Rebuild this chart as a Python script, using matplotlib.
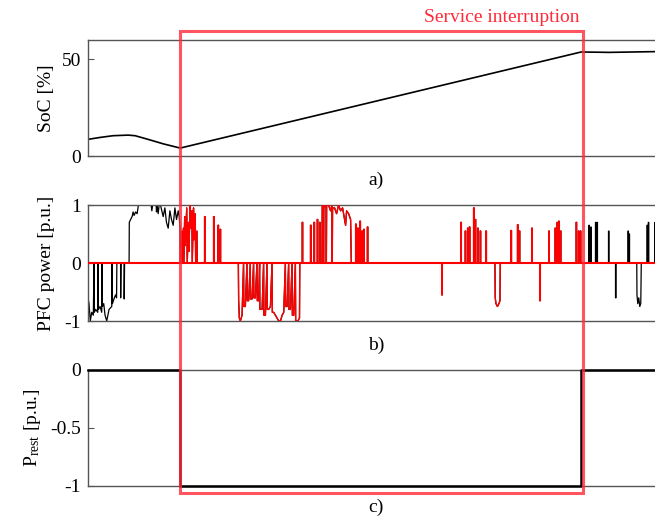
import numpy as np
import matplotlib
matplotlib.use('Agg')
import matplotlib.pyplot as plt
from matplotlib.patches import Rectangle
from matplotlib.transforms import blended_transform_factory

plt.rcParams['font.family'] = ['Liberation Serif', 'DejaVu Serif']
plt.rcParams['font.size'] = 14
plt.rcParams['axes.unicode_minus'] = False

# time axis (arbitrary units, no ticks shown)
t_end = 567
t_int_start = 92
t_int_stop = 492

# a) state of charge
soc_t = [0, 12, 25, 40, 47, 60, 75, 92, 492, 520, 567]
soc_v = [8.6, 9.6, 10.5, 10.8, 10.5, 8.6, 6.3, 4.1, 53.8, 53.6, 54.0]

# b) PFC power: wandering parts as vertex lists, short pulses as (t, height)
pfc_segments = [
    [(0, -0.6), (1, -0.7), (2.3, -1.0), (3.7, -0.85), (5.3, -0.9), (6, 0), (6.4, -0.85),
     (7.7, -0.8), (9.7, -0.85), (10, 0), (10.4, -0.8), (12, -0.75), (13.7, -0.85), (14, 0),
     (14.4, -0.75), (15.7, -0.7), (17, -0.9), (18.7, -1.0), (21, -0.8), (23.7, -0.75),
     (24, 0), (24.4, -0.7), (26.3, -0.6), (27.5, -0.55), (28.5, -0.6), (28.8, 0),
     (32.5, 0), (32.6, -0.6), (33, 0), (36, 0), (36.1, -0.62), (36.5, 0),
     (41, 0), (41.2, 0.7), (42.5, 0.75), (44, 0.8), (45, 0.88), (46, 0.82), (47.5, 0.88),
     (49, 0.85), (50.3, 1.0), (63, 1.0), (63.7, 0.9), (64.5, 1.0), (68, 1.0), (68.3, 0.88),
     (69, 1.0), (70, 0.85), (71, 1.0), (72.3, 1.0), (75, 0.8), (76.7, 0.95), (78.3, 0.7),
     (80, 0.6), (81.7, 0.9), (83.3, 0.75), (85, 0.65), (86.7, 0.95), (88.3, 0.75),
     (90, 0.9), (91, 0.8), (91.8, 0.6), (92, 0)],
    [(92, 0), (93.7, 0.55), (93.9, 0), (95.2, 0.6), (95.4, 0), (96.5, 0.8), (97, 0.3),
     (98.5, 0.95), (99, 0), (100.3, 0.7), (100.6, 0.2), (102, 1.0), (102.5, 0.6),
     (103.7, 0.9), (104, 0), (105.3, 0.95), (105.8, 0.4), (107, 0.85), (107.4, 0),
     (108.7, 0.55), (109, 0)],
    [(150, 0), (150.3, -0.65), (151, -0.95), (152, -1.0), (153.7, -0.9), (155.2, 0),
     (155.5, -0.75), (157, -0.75), (158.6, 0), (158.9, -0.65), (160.3, -0.65), (161.9, 0),
     (162.2, -0.62), (163.7, -0.62), (165.2, 0), (165.5, -0.6), (167, -0.6), (168.6, 0),
     (168.9, -0.65), (170.3, -0.65), (171.2, 0), (171.5, -0.8), (173.7, -0.8), (175.2, 0),
     (175.5, -0.9), (177, -0.9), (178.6, 0), (178.9, -0.8), (180.3, -0.8), (182, -0.75),
     (183.6, 0), (183.9, -0.85), (185.3, -0.85), (187, -0.9), (188.7, -0.95),
     (190.3, -1.0), (192, -1.0), (193.7, -0.9), (195.3, -0.85), (196.9, 0), (197.2, -0.75),
     (198.7, -0.75), (200.2, 0), (200.5, -0.8), (202, -0.8), (203.6, 0), (203.9, -0.9),
     (205.3, -0.9), (206.9, 0), (207.2, -1.0), (209.3, -1.0), (211, -0.95), (211.3, 0)],
    [(233.5, 0), (233.7, 1.0), (234.8, 1.0), (235, 0), (235.3, 1.0), (237.5, 0.95),
     (237.8, 0), (238.1, 1.0), (240, 1.0), (242, 0.9), (243.4, 1.0), (243.7, 0),
     (244, 0.95), (246, 0.95), (248, 0.85), (250, 1.0), (252, 0.9), (254, 0.95),
     (257, 0.65), (258, 0.9), (260, 0.85), (262, 0.75), (262.7, 0)],
    [(406, 0), (406.3, -0.6), (407, -0.7), (408.5, -0.75), (410, -0.7), (411, -0.65),
     (411.3, 0)],
    [(547.5, 0), (547.7, -0.55), (548.5, -0.7), (549.5, -0.6), (550.5, -0.75),
     (551.5, -0.7), (552, 0)],
]
pfc_pulses = [
    (116.3, 0.8), (125.3, 0.8), (129.7, 0.65), (131.8, 0.58),
    (213.7, 0.7), (222, 0.65), (225.5, 0.7), (228.7, 0.75), (231, 0.7),
    (267, 0.67), (269, 0.6), (271.3, 0.72), (273.3, 0.55), (275, 0.58), (278.7, 0.62),
    (353, -0.55),
    (372, 0.7), (376.3, 0.55), (378.7, 0.6), (380.5, 0.62), (384.7, 0.95), (386.3, 0.75),
    (388.7, 0.6), (391.3, 0.55), (397, 0.55),
    (422, 0.56), (428.5, 0.66), (430.3, 0.55), (442.7, 0.6), (450.8, -0.65),
    (459.7, 0.55), (466, 0.6), (468, 0.7), (469.6, 0.72), (471.3, 0.55),
    (487, 0.7), (489.3, 0.55), (491.2, 0.55),
    (499.7, 0.65), (501.5, 0.62), (506.3, 0.7), (507.8, 0.7), (519.3, 0.55),
    (526.3, -0.6), (538.7, 0.55), (539.8, 0.5), (557.7, 0.65), (559, 0.7), (565.5, 0.7),
]

# c) restoration power
prest_t = [0, 92, 92, 492, 492, 567]
prest_p = [0, 0, -1, -1, 0, 0]

# build PFC series
pieces = [list(s) for s in pfc_segments]
for tp, h in pfc_pulses:
    pieces.append([(tp, 0), (tp, h), (tp + 0.5, h), (tp + 0.5, 0)])
pieces.sort(key=lambda s: s[0][0])
pts = [p for s in pieces for p in s] + [(t_end, 0)]
pfc_t = np.array([p[0] for p in pts])
pfc_p = np.array([p[1] for p in pts])
inside = (pfc_t >= t_int_start) & (pfc_t <= t_int_stop + 0.5)

fig = plt.figure(figsize=(6.55, 5.18), dpi=100)
left, width, height = 88 / 655, 567 / 655 + 0.002, 116 / 518
ax1 = fig.add_axes([left, 1 - 156 / 518, width, height])
ax2 = fig.add_axes([left, 1 - 321 / 518, width, height])
ax3 = fig.add_axes([left, 1 - 486 / 518, width, height])

ax1.plot(soc_t, soc_v, color='black', lw=1.2)
ax1.set_ylim(0, 60)
ax1.set_yticks([0, 50])
ax1.set_ylabel('SoC [%]')

ax2.plot(pfc_t, pfc_p, color='black', lw=0.9, zorder=2)
ax2.plot(pfc_t[inside], pfc_p[inside], color='red', lw=1.0, zorder=4)
ax2.axhline(0, color='red', lw=1.5, zorder=3)
ax2.set_ylim(-1, 1)
ax2.set_yticks([-1, 0, 1])
ax2.set_ylabel('PFC power [p.u.]')

ax3.plot(prest_t, prest_p, color='black', lw=1.8, clip_on=False, zorder=3)
ax3.set_ylim(-1, 0)
ax3.set_yticks([-1, -0.5, 0])
ax3.set_yticklabels(['-1', '-0.5', '0'])
ax3.set_ylabel(r'$\mathregular{P_{rest}}$ [p.u.]')

for ax in (ax1, ax2, ax3):
    ax.set_xlim(0, t_end)
    ax.set_xticks([])
    ax.spines['right'].set_visible(False)
    for s in ('left', 'top', 'bottom'):
        ax.spines[s].set_color('#555555')
        ax.spines[s].set_linewidth(1.0)
    ax.tick_params(axis='y', direction='in', length=4, width=0.8, color='#555555', pad=5)
    ax.set_facecolor('none')

ax1.yaxis.set_label_coords(-0.058, 0.5)
ax2.yaxis.set_label_coords(-0.058, 0.5)
ax3.yaxis.set_label_coords(-0.08, 0.5)

fig.text(376 / 655, 1 - 180 / 518, 'a)', ha='center', va='center')
fig.text(376 / 655, 1 - 345 / 518, 'b)', ha='center', va='center')
fig.text(376 / 655, 1 - 507 / 518, 'c)', ha='center', va='center')

# service interruption box
tr = blended_transform_factory(ax1.transData, fig.transFigure)
y_top, y_bot = 1 - 31 / 518, 1 - 493 / 518
box = Rectangle((t_int_start, y_bot), t_int_stop + 2 - t_int_start, y_top - y_bot,
                transform=tr, fill=False, edgecolor='#ff2a3a', lw=2.2, alpha=0.8,
                clip_on=False, zorder=10)
fig.add_artist(box)
fig.text(580 / 655, 1 - 18 / 518, 'Service interruption', color='#ff2a3a',
         ha='right', va='center')

fig.savefig('out.png', dpi=100)
